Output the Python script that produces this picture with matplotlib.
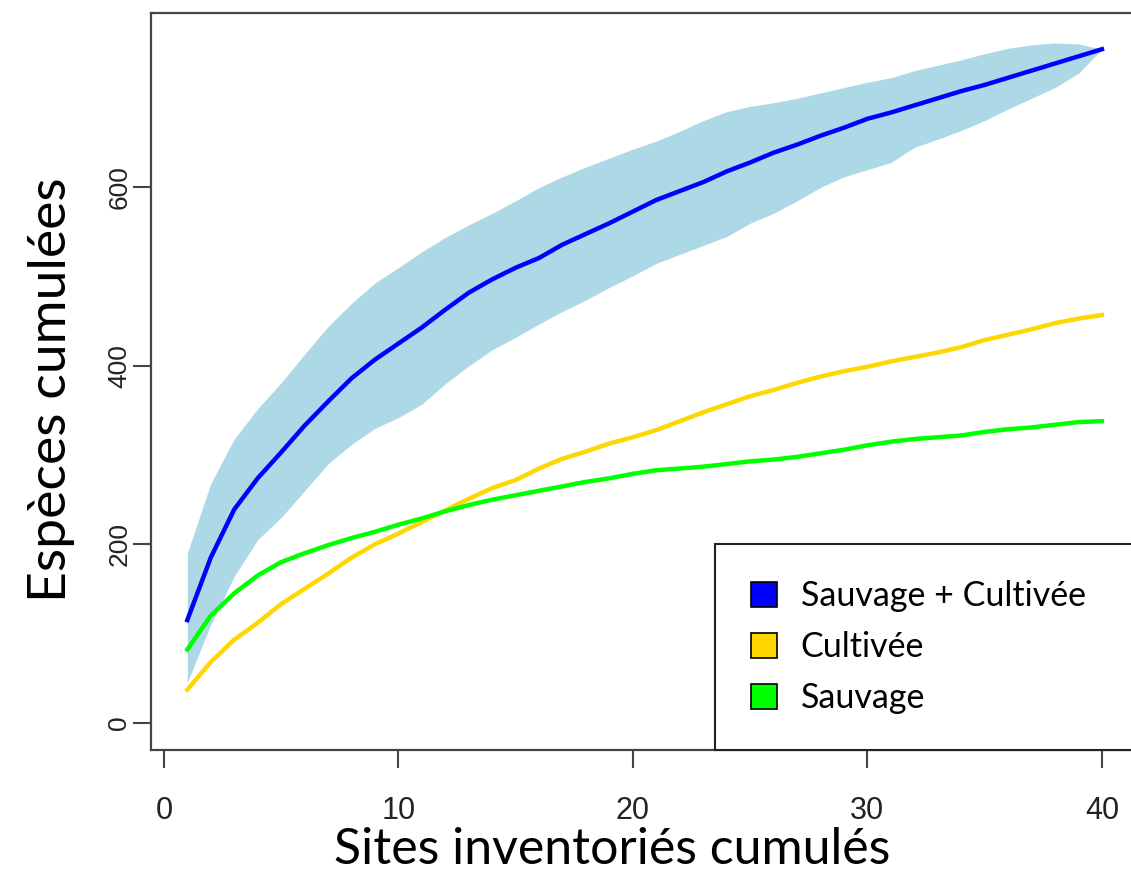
import numpy as np
import matplotlib
matplotlib.use("Agg")
import matplotlib.pyplot as plt
from matplotlib.patches import Patch

# ---- data ----
sites = list(range(1, 41))
both_mean = [115, 185, 239, 274, 303, 333, 360, 386, 407, 425,
             443, 463, 482, 497, 510, 521, 536, 548, 560, 573,
             586, 596, 606, 618, 628, 639, 648, 658, 667, 677,
             684, 692, 700, 708, 715, 723, 731, 739, 747, 755]
both_upper = [190, 268, 318, 352, 381, 413, 444, 470, 493, 510,
              528, 544, 558, 571, 585, 600, 612, 623, 633, 643,
              652, 663, 675, 685, 691, 695, 700, 706, 712, 718,
              723, 731, 737, 743, 750, 756, 760, 762, 761, 755]
both_lower = [45, 110, 164, 205, 230, 260, 290, 312, 330, 342,
              357, 380, 400, 418, 432, 447, 461, 474, 488, 501,
              515, 525, 535, 545, 560, 571, 585, 600, 612, 620,
              628, 645, 654, 664, 675, 688, 700, 712, 728, 755]
cultivee = [37, 68, 93, 112, 133, 150, 167, 185, 200, 212,
            225, 238, 251, 263, 272, 285, 296, 304, 313, 320,
            328, 338, 348, 357, 366, 373, 381, 388, 394, 399,
            405, 410, 415, 421, 429, 435, 441, 448, 453, 457]
sauvage = [82, 120, 145, 165, 180, 190, 199, 207, 214, 222,
           229, 237, 244, 250, 255, 260, 265, 270, 274, 279,
           283, 285, 287, 290, 293, 295, 298, 302, 306, 311,
           315, 318, 320, 322, 326, 329, 331, 334, 337, 338]

legend_labels = ["Sauvage + Cultivée", "Cultivée", "Sauvage"]
xticks = [0, 10, 20, 30, 40]
yticks = [0, 200, 400, 600]

c_band = "#ADD8E6"
c_both = "#0000FF"
c_cult = "#FFD700"
c_sauv = "#00FF00"

W, H = 1131, 877
fig = plt.figure(figsize=(W / 100, H / 100), dpi=100)
left, right, top, bottom = 150.7, 1138.5, 13, 750
ax = fig.add_axes([left / W, (H - bottom) / H, (right - left) / W, (bottom - top) / H])

ax.fill_between(sites, both_lower, both_upper, color=c_band, linewidth=0, zorder=1)
ax.plot(sites, both_mean, color=c_both, lw=3.2, zorder=3)
ax.plot(sites, cultivee, color=c_cult, lw=3.2, zorder=3)
ax.plot(sites, sauvage, color=c_sauv, lw=3.2, zorder=3)

xr = 40 - 1
ax.set_xlim(1 - 0.04 * xr, 40 + 0.04 * xr)
yr = 765
ax.set_ylim(-0.04 * yr, 765 + 0.04 * yr)

ax.set_xticks(xticks)
ax.set_yticks(yticks)
ax.set_xticklabels([str(v) for v in xticks], fontsize=22, family="Liberation Sans", color="#222222")
ax.set_yticklabels([str(v) for v in yticks], fontsize=19, family="Liberation Sans", color="#222222",
                   rotation=90, va="center")
ax.tick_params(axis="x", length=13, width=1.5, color="#444444", pad=20)
ax.tick_params(axis="y", length=13, width=1.5, color="#444444", pad=1)
for s in ax.spines.values():
    s.set_linewidth(1.6)
    s.set_color("#444444")

handles = [Patch(facecolor=c, edgecolor="black", linewidth=1.2) for c in (c_both, c_cult, c_sauv)]
x0 = (715 - left) / (right - left)
leg = ax.legend(handles, legend_labels, loc="lower left",
                bbox_to_anchor=(x0, 0, 1 - x0, 0.28), mode="expand", borderaxespad=0,
                prop={"family": "Lato", "size": 24.5}, handlelength=0.77, handleheight=0.77,
                handletextpad=0.7, labelspacing=0.56, borderpad=1.05, fancybox=False,
                edgecolor="#222222", framealpha=1)
leg.get_frame().set_linewidth(1.5)

fig.text(612 / W, 1 - 850 / H, "Sites inventoriés cumulés", family="Lato", fontsize=36,
         ha="center", va="center", color="black")
fig.text(52 / W, 1 - 390 / H, "Espèces cumulées", family="Lato", fontsize=38.5,
         ha="center", va="center", rotation=90, color="black")

fig.savefig("out.png", dpi=100)
